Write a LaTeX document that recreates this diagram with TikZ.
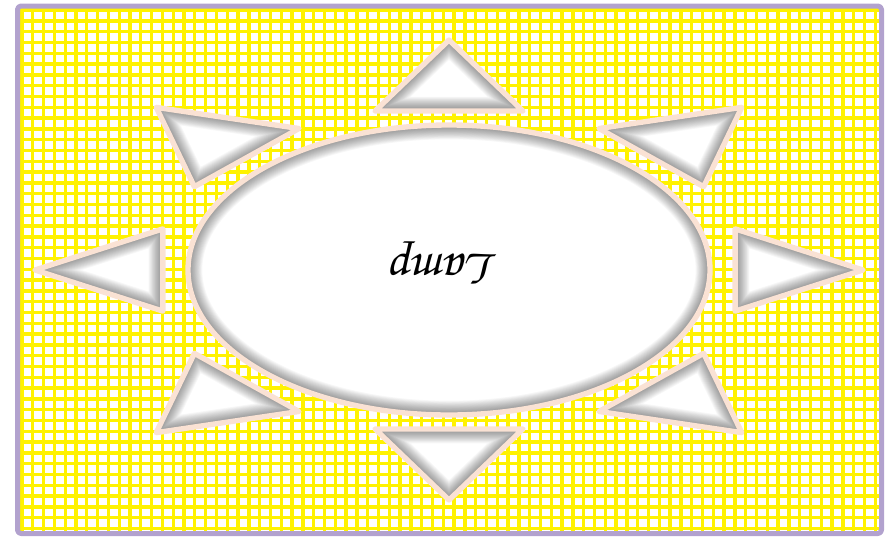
\documentclass[tikz,border=0pt]{standalone}
\usepackage[T1]{fontenc}
\usepackage{tikz}
\definecolor{lampedge}{RGB}{250,226,212}
\definecolor{frameviolet}{RGB}{178,162,206}
\newcommand{\lampray}[1]{(#1:230) -- (#1+14.5:164.2) -- (#1-14.5:164.2) -- cycle}
\newcommand{\chancery}{\fontfamily{pzc}\fontseries{mb}\fontshape{it}\selectfont}

\begin{document}
\begin{tikzpicture}[
  x=0.28pt,
  y=-0.28pt,
  line join=round,
  frame/.style={line width=1.4pt,draw=frameviolet,rounded corners=1pt},
  gridline/.style={yellow,line width=0.95pt},
  glass/.style={fill=white},
  rim/.style={draw=lampedge,line width=1.5pt}]
\useasboundingbox (0,0) rectangle (887,536);

% --- Gridded backdrop ---
\begin{scope}
  \clip (17.5,6) rectangle (881.5,533.5);
  \foreach \i in {0,...,81}
    \draw[gridline] (22+10.8*\i,0) -- (22+10.8*\i,536);
  \foreach \j in {0,...,49}
    \draw[gridline] (0,10+10.8*\j) -- (887,10+10.8*\j);
\end{scope}
\draw[frame] (17.5,6) rectangle (881.5,533.5);

\begin{scope}[shift={(449,270)},xscale=1.8]
% --- Lamp body and rays ---
\foreach \p in {(0,0) circle (145),
                \lampray{0},\lampray{45},\lampray{90},\lampray{135},
                \lampray{180},\lampray{225},\lampray{270},\lampray{315}}{
  \fill[glass] \p;
  % inner shadow
  \begin{scope}
    \clip \p;
    \foreach \k in {1,...,16}
      \draw[black,opacity=0.03,line width=0.5pt*\k] \p;
  \end{scope}
  \draw[rim] \p;
}
\end{scope}

% --- Label, upside down ---
\node[font=\Large\chancery,rotate=180] (lamp) at (446,262) {Lamp};

\end{tikzpicture}
\end{document}
